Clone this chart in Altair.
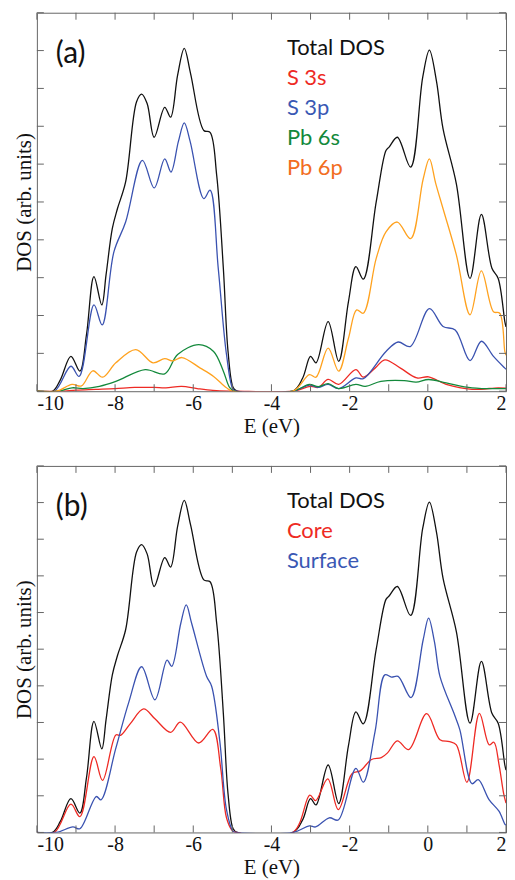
import altair as alt
import pandas as pd

# ---------------- data ----------------
x_label_values = [-10, -8, -6, -4, -2, 0, 2]
x_tick_values = list(range(-10, 3))
y_tick_values = list(range(0, 11))

total_E = [-10, -9.6, -9.4, -9.13, -8.9, -8.73, -8.54, -8.34, -8.23, -8.07, -7.94, -7.73,
           -7.45, -7.32, -7.18, -7.0, -6.73, -6.58, -6.4, -6.23, -6.07, -5.73, -5.57, -5.4,
           -5.23, -5.11, -4.98, -4.88,
           -3.45, -3.2, -3.0, -2.86, -2.55, -2.28, -2.03, -1.84, -1.65, -1.32, -1.07, -0.99,
           -0.78, -0.44, -0.13, 0.04, 0.22, 0.39, 0.73, 1.08, 1.37, 1.64, 1.8, 1.97, 2.0]
total_v = [0, 0, 0.3, 0.92, 0.53, 1.5, 3.03, 2.28, 3.08, 4.30, 4.82, 5.53,
           7.65, 7.85, 7.6, 6.71, 7.5, 7.24, 8.35, 9.06, 8.4, 6.89, 6.84, 5.7,
           3.24, 1.05, 0.1, 0,
           0, 0.35, 0.92, 0.75, 1.84, 0.79, 2.37, 3.29, 2.96, 5.0, 6.36, 6.45,
           6.71, 5.92, 8.3, 9.01, 8.2, 6.93, 5.48, 2.98, 4.67, 3.25, 2.98, 1.84, 1.7]

s3s_E = [-10, -9.4, -9.0, -8.5, -8.0, -7.5, -7.0, -6.7, -6.3, -5.9, -5.5, -5.1, -4.9,
         -3.45, -3.0, -2.8, -2.55, -2.28, -1.84, -1.65, -1.35, -1.1, -0.7, -0.28, 0.02,
         0.47, 1.13, 1.8, 2.0]
s3s_v = [0, 0, 0.03, 0.05, 0.07, 0.1, 0.1, 0.09, 0.13, 0.07, 0.02, 0, 0,
         0, 0.13, 0.1, 0.31, 0.18, 0.57, 0.37, 0.61, 0.83, 0.61, 0.35, 0.38,
         0.18, 0.05, 0.09, 0.08]

s3p_E = [-10, -9.55, -9.13, -8.92, -8.54, -8.33, -8.03, -7.73, -7.3, -7.0, -6.73, -6.57,
         -6.38, -6.23, -6.08, -5.73, -5.57, -5.36, -5.15, -4.98, -4.88,
         -3.45, -3.03, -2.8, -2.55, -2.28,
         -1.84, -1.65, -1.07, -0.76, -0.45, 0.04, 0.39, 0.7, 1.08, 1.37, 1.68, 1.97, 2.0]
s3p_v = [0, 0, 0.66, 0.39, 2.28, 1.75, 3.68, 4.47, 6.1, 5.37, 6.14, 5.79,
         6.6, 7.09, 6.6, 5.09, 5.31, 3.24, 0.97, 0.05, 0,
         0, 0.16, 0.1, 0.18, 0.07,
         0.35, 0.33, 1.05, 1.3, 1.18, 2.18, 1.71, 1.62, 0.81, 1.32, 0.92, 0.61, 0.58]

pb6s_E = [-10, -9.45, -9.1, -8.82, -8.4, -7.98, -7.23, -6.73, -6.4, -5.86, -5.48, -5.23,
          -5.07, -4.95, -3.45, -3.03, -2.8, -2.55, -2.28, -1.84, -1.6, -1.2, -0.6, -0.3,
          0.02, 0.47, 1.13, 2.0]
pb6s_v = [0, 0, 0.09, 0.07, 0.13, 0.26, 0.57, 0.46, 0.97, 1.23, 1.05, 0.53,
          0.1, 0, 0, 0.18, 0.12, 0.2, 0.07, 0.18, 0.13, 0.26, 0.28, 0.24,
          0.31, 0.22, 0.09, 0.07]

pb6p_E = [-10, -9.5, -9.1, -8.86, -8.57, -8.32, -7.98, -7.47, -7.03, -6.73, -6.52, -6.29,
          -5.82, -5.48, -5.15, -4.98, -3.45, -3.03, -2.86, -2.55, -2.28, -2.03, -1.82, -1.65,
          -1.32, -1.07, -0.78, -0.44, -0.12, 0.04, 0.2, 0.39, 0.73, 1.08, 1.37, 1.68, 1.84,
          1.97, 2.0]
pb6p_v = [0, 0, 0.18, 0.14, 0.54, 0.37, 0.75, 1.1, 0.75, 0.86, 0.8, 0.89,
          0.61, 0.39, 0.09, 0, 0, 0.44, 0.37, 1.14, 0.53, 1.4, 2.15, 2.06,
          3.51, 4.21, 4.47, 4.03, 5.6, 6.14, 5.5, 4.82, 3.6, 2.02, 3.18, 2.1, 2.06,
          1.05, 0.95]

core_E = [-10, -9.55, -9.13, -8.9, -8.54, -8.32, -7.98, -7.86, -7.61, -7.27, -6.98, -6.58,
          -6.33, -5.86, -5.5, -5.3, -5.15, -5.0, -4.9, -3.45, -3.02, -2.87, -2.56, -2.29,
          -1.94, -1.73, -1.44, -1.19, -1.03, -0.78, -0.49, -0.03, 0.31, 0.56, 0.73, 1.0,
          1.32, 1.57, 1.69, 1.82, 1.94, 2.0]
core_v = [0, 0, 0.77, 0.43, 2.07, 1.42, 2.66, 2.65, 2.97, 3.37, 3.1, 2.73,
          3.01, 2.44, 2.81, 1.77, 0.4, 0.05, 0, 0, 1.02, 0.87, 1.46, 0.62,
          1.6, 1.68, 1.99, 2.04, 2.17, 2.5, 2.26, 3.24, 2.53, 2.48, 2.39, 1.37,
          3.25, 2.39, 2.46, 1.86, 1.06, 0.8]

surf_E = [-10, -9.5, -9.08, -8.9, -8.48, -8.36, -7.98, -7.65, -7.32, -6.98, -6.67, -6.55,
          -6.32, -6.18, -6.04, -5.66, -5.53, -5.32, -5.15, -4.98, -4.88,
          -3.45, -3.03, -2.87, -2.52, -2.29,
          -1.84, -1.65, -1.35, -1.1, -0.93, -0.76, -0.43, -0.12, 0.02, 0.17, 0.31, 0.69,
          0.82, 1.13, 1.29, 1.57, 1.82, 1.97, 2.0]
surf_v = [0, 0, 0.15, 0.1, 0.98, 0.89, 2.3, 3.55, 4.52, 3.62, 4.7, 4.53,
          5.7, 6.21, 5.7, 4.26, 3.99, 2.48, 0.62, 0.03, 0,
          0, 0.18, 0.15, 0.4, 0.34,
          1.75, 1.37, 2.75, 4.3, 4.24, 4.26, 3.68, 5.25, 5.85, 5.2, 4.26, 3.19,
          2.8, 1.33, 1.44, 0.89, 0.58, 0.23, 0.2]

names_a = ["Total DOS", "S 3s", "S 3p", "Pb 6s", "Pb 6p"]
line_colors_a = ["#111111", "#ee2a24", "#3a52b0", "#13893b", "#ffa21f"]
text_colors_a = ["#111111", "#ee2a24", "#3a58b4", "#13893b", "#f26d21"]
names_b = ["Total DOS", "Core", "Surface"]
line_colors_b = ["#111111", "#ee2a24", "#3a52b0"]
text_colors_b = ["#111111", "#ee2a24", "#3a58b4"]

# ---------------- layout constants ----------------
W = 471
H_A = 380
H_B = 368
FRAME = "#666666"
SERIF = "Liberation Serif"
SANS = "Lato"


def make_df(names, pairs):
    frames = []
    for i, (n, (E, v)) in enumerate(zip(names, pairs)):
        frames.append(pd.DataFrame({"E": E, "DOS": v, "series": n, "order": i}))
    return pd.concat(frames, ignore_index=True)


def panel(names, pairs, line_colors, text_colors, tag, H):
    df = make_df(names, pairs)
    xs = alt.Scale(domain=[-10, 2], nice=False, zero=False)
    ys = alt.Scale(domain=[0, 10], nice=False, zero=False)
    x_axis = alt.Axis(values=x_label_values, title="E (eV)", ticks=False, domain=False,
                      grid=False, labelExpr="'' + datum.value")
    y_axis = alt.Axis(title="DOS (arb. units)", labels=False, ticks=False,
                      domain=False, grid=False)

    lines = alt.Chart(df).mark_line(interpolate="catmull-rom", strokeWidth=1.3, clip=True).encode(
        x=alt.X("E:Q", scale=xs, axis=x_axis, title="E (eV)"),
        y=alt.Y("DOS:Q", scale=ys, axis=y_axis, title="DOS (arb. units)"),
        color=alt.Color("series:N", scale=alt.Scale(domain=names, range=line_colors), legend=None),
        detail="series:N",
    )

    xt = pd.DataFrame({"t": x_tick_values})
    yt = pd.DataFrame({"t": y_tick_values})
    tick_len = 7
    bottom = alt.Chart(xt).mark_rule(color=FRAME, strokeWidth=1).encode(
        x=alt.X("t:Q", scale=xs, axis=x_axis, title="E (eV)"),
        y=alt.value(H), y2=alt.value(H - tick_len))
    top = alt.Chart(xt).mark_rule(color=FRAME, strokeWidth=1).encode(
        x=alt.X("t:Q", scale=xs, axis=x_axis, title="E (eV)"),
        y=alt.value(0), y2=alt.value(tick_len))
    left = alt.Chart(yt).mark_rule(color=FRAME, strokeWidth=1).encode(
        y=alt.Y("t:Q", scale=ys, axis=y_axis, title="DOS (arb. units)"),
        x=alt.value(0), x2=alt.value(tick_len))
    right = alt.Chart(yt).mark_rule(color=FRAME, strokeWidth=1).encode(
        y=alt.Y("t:Q", scale=ys, axis=y_axis, title="DOS (arb. units)"),
        x=alt.value(W), x2=alt.value(W - tick_len))

    texts = []
    for i, (n, c) in enumerate(zip(names, text_colors)):
        texts.append(
            alt.Chart(pd.DataFrame({"label": [n]})).mark_text(
                align="left", baseline="alphabetic", font=SANS, fontSize=22, color=c
            ).encode(x=alt.value(251), y=alt.value(42 + i * 30.3), text="label:N")
        )
    tag_text = alt.Chart(pd.DataFrame({"label": [tag]})).mark_text(
        align="left", baseline="alphabetic", font=SANS, fontSize=30, color="#111111"
    ).encode(x=alt.value(19), y=alt.value(50), text="label:N")

    return alt.layer(lines, bottom, top, left, right, *texts, tag_text).properties(width=W, height=H)


pa = panel(names_a, [(total_E, total_v), (s3s_E, s3s_v), (s3p_E, s3p_v), (pb6s_E, pb6s_v),
                     (pb6p_E, pb6p_v)], line_colors_a, text_colors_a, "(a)", H_A)
pb = panel(names_b, [(total_E, total_v), (core_E, core_v), (surf_E, surf_v)],
           line_colors_b, text_colors_b, "(b)", H_B)

chart = alt.vconcat(pa, pb, spacing=28).resolve_scale(color="independent").properties(
    padding={"left": 5, "top": 2, "right": 0, "bottom": 0}
).configure_view(stroke=FRAME, strokeWidth=1).configure_axis(
    labelFont=SERIF, labelFontSize=20, labelColor="#111111", labelPadding=2,
    titleFont=SERIF, titleFontSize=21, titleFontWeight="normal", titleColor="#111111",
    titlePadding=2,
)

chart.save("out.html", embed_options={"renderer": "svg", "actions": False})
